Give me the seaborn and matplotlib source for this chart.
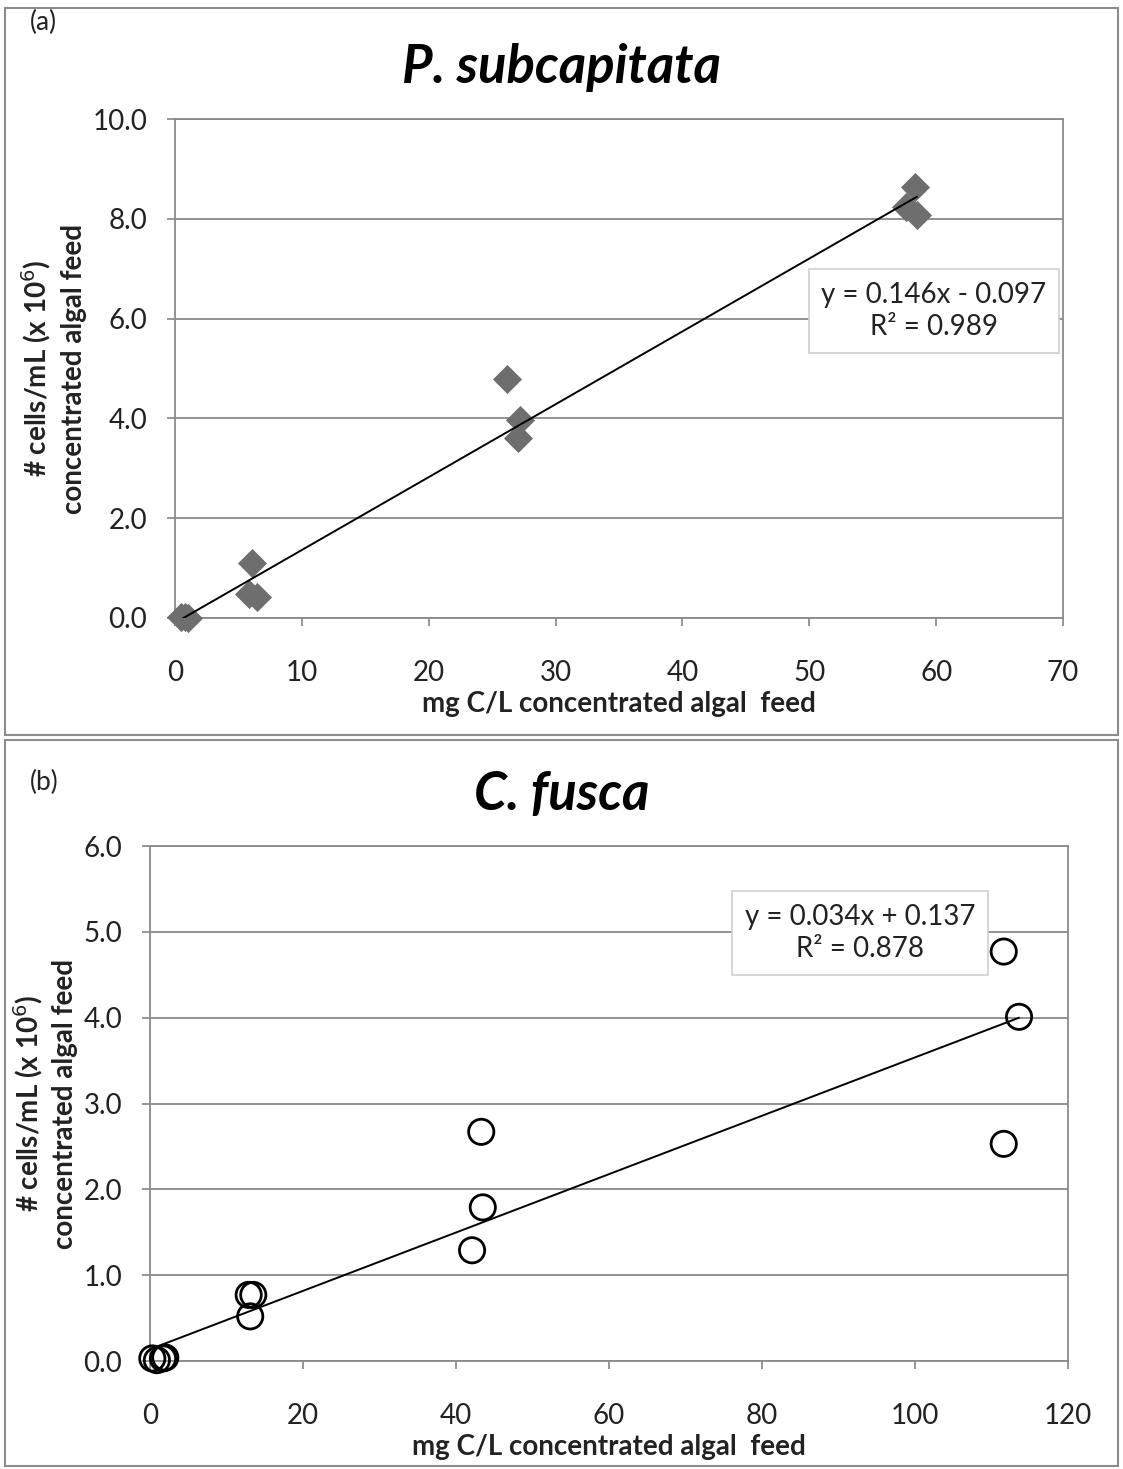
import matplotlib
matplotlib.use("Agg")
import matplotlib.pyplot as plt
import numpy as np
import pandas as pd
import seaborn as sns
from matplotlib.patches import Rectangle

# P. subcapitata: carbon (mg C/L) vs cell density (x 10^6 cells/mL)
pc_carbon = [0.5, 0.8, 1.0, 6.1, 5.8, 6.5, 26.2, 27.2, 27.0, 58.3, 57.6, 58.5]
pc_cells = [0.02, 0.03, 0.01, 1.10, 0.48, 0.42, 4.79, 3.97, 3.61, 8.64, 8.24, 8.08]
pc_slope, pc_icept, pc_r2 = 0.146, -0.097, 0.989

# C. fusca
cf_carbon = [0.3, 0.9, 1.7, 2.0, 12.9, 13.5, 13.1, 43.3, 43.5, 42.1, 111.6, 113.6, 111.6]
cf_cells = [0.03, 0.01, 0.03, 0.04, 0.77, 0.77, 0.52, 2.67, 1.79, 1.29, 4.77, 4.01, 2.53]
cf_slope, cf_icept, cf_r2 = 0.034, 0.137, 0.878

sns.set_theme(style="white")
plt.rcParams["font.family"] = ["Lato", "DejaVu Sans"]

fig = plt.figure(figsize=(11.23, 14.69), dpi=100)

# outer panel frames
for y0, y1 in [(8, 735), (740, 1466)]:
    fig.patches.append(Rectangle((5 / 1123, 1 - y1 / 1469), 1113 / 1123, (y1 - y0) / 1469,
                                 transform=fig.transFigure, fill=False,
                                 edgecolor="#8c8c8c", linewidth=1.5))

grid_c = "#8a8a8a"
txt_c = "#222222"


def panel(rect, xs, ys, slope, icept, r2, xlim, xticks, ylim, yticks, title, tag,
          tag_xy, title_y, eq_xy, marker, msize, face, edge, ylabelpad):
    ax = fig.add_axes(rect)
    df = pd.DataFrame({"x": xs, "y": ys})
    sns.scatterplot(data=df, x="x", y="y", ax=ax, marker=marker, s=msize,
                    color=face, edgecolor=edge, linewidth=2.0 if face == "none" else 0,
                    zorder=3, clip_on=False)
    xfit = np.array([min(xs), max(xs)])
    fit = pd.DataFrame({"x": xfit, "y": slope * xfit + icept})
    sns.lineplot(data=fit, x="x", y="y", ax=ax, color="black", linewidth=1.4, zorder=4)
    ax.set_xlim(*xlim)
    ax.set_ylim(*ylim)
    ax.set_xticks(xticks)
    ax.set_yticks(yticks)
    ax.set_yticklabels([f"{v:.1f}" for v in yticks])
    ax.set_xticklabels([f"{v:g}" for v in xticks])
    ax.tick_params(axis="both", labelsize=20, colors=txt_c, length=6,
                   color=grid_c, direction="out", bottom=True, left=True)
    ax.tick_params(axis="y", pad=14)
    ax.tick_params(axis="x", pad=24)
    ax.yaxis.grid(True, color=grid_c, linewidth=1.3)
    ax.xaxis.grid(False)
    ax.set_axisbelow(True)
    for s in ax.spines.values():
        s.set_color(grid_c)
        s.set_linewidth(1.3)
    ax.set_xlabel("mg C/L concentrated algal  feed", fontsize=20, fontweight="bold",
                  color=txt_c, labelpad=4)
    ax.set_ylabel("# cells/mL (x 10$^6$)\nconcentrated algal feed", fontsize=20,
                  fontweight="bold", color=txt_c, linespacing=1.35, labelpad=ylabelpad)
    fig.text(tag_xy[0], tag_xy[1], tag, fontsize=19, color=txt_c, va="center")
    fig.text(0.5, title_y, title, fontsize=38, fontweight="bold", style="italic",
             ha="center", va="center", color="black")
    ax.text(eq_xy[0], eq_xy[1],
            f"y = {slope:.3f}x {'+' if icept >= 0 else '-'} {abs(icept):.3f}\nR² = {r2:.3f}",
            transform=ax.transAxes, ha="center", va="center", fontsize=20,
            color=txt_c, linespacing=1.3, zorder=5,
            bbox=dict(boxstyle="square,pad=0.45", facecolor="white",
                      edgecolor="#d0d0d0", linewidth=1.2))
    return ax


panel([175 / 1123, 1 - 618 / 1469, 888 / 1123, 499 / 1469],
      pc_carbon, pc_cells, pc_slope, pc_icept, pc_r2,
      (0, 70), list(range(0, 71, 10)), (0, 10), [0, 2, 4, 6, 8, 10],
      "P. subcapitata", "(a)", (30 / 1123, 1 - 22 / 1469), 1 - 68 / 1469,
      ((934 - 175) / 888, (618 - 311) / 499), "D", 220, "#6e6e6e", "#6e6e6e", 4)

panel([150 / 1123, 1 - 1361 / 1469, 918 / 1123, 515 / 1469],
      cf_carbon, cf_cells, cf_slope, cf_icept, cf_r2,
      (0, 120), list(range(0, 121, 20)), (0, 6), [0, 1, 2, 3, 4, 5, 6],
      "C. fusca", "(b)", (30 / 1123, 1 - 782 / 1469), 1 - 795 / 1469,
      ((860 - 150) / 918, (1361 - 933) / 515), "o", 330, "none", "black", 4)

fig.savefig("out.png", dpi=100, facecolor="white")
